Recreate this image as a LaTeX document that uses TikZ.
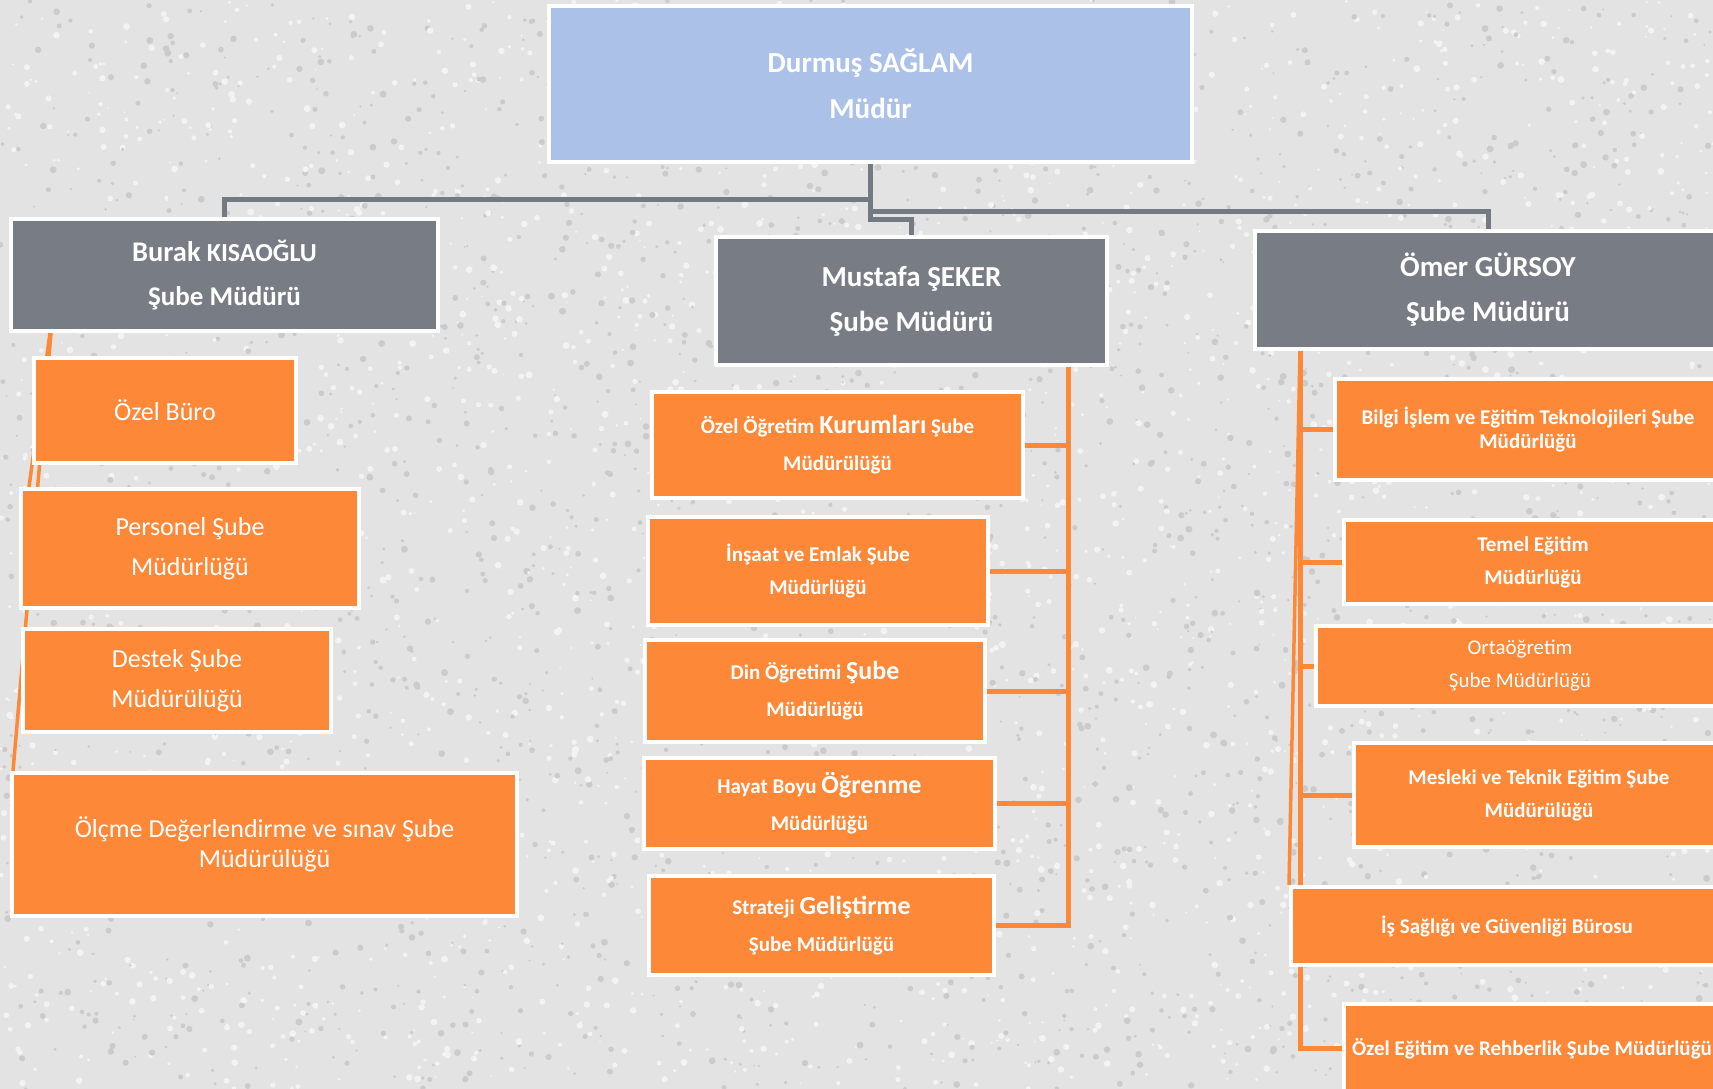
\documentclass[tikz,border=0pt]{standalone}
\usepackage{fontspec}
\setmainfont{Carlito}
\usetikzlibrary{calc}
\definecolor{bgc}{HTML}{E3E3E3}
\definecolor{speckd}{HTML}{CBCBCB}
\definecolor{speckl}{HTML}{F3F3F3}
\definecolor{topblue}{HTML}{ABC1E8}
\definecolor{mgray}{HTML}{787C84}
\definecolor{lgray}{HTML}{757982}
\definecolor{org}{HTML}{FD8838}
\pgfdeclarelayer{bg}
\pgfsetlayers{bg,main}
\tikzset{
  boxbase/.style={draw=white, line width=4pt, inner sep=0pt, align=center, text=white},
  bluebox/.style={boxbase, fill=topblue, font=\bfseries\fontsize{29}{46}\selectfont},
  graybox/.style={boxbase, fill=mgray, font=\bfseries\fontsize{29}{45}\selectfont},
  obox/.style={boxbase, fill=org},
  rfont/.style={font=\fontsize{26}{40}\selectfont},
  mfont/.style={font=\bfseries\fontsize{21}{37}\selectfont},
  ofont/.style={font=\bfseries\fontsize{21}{33}\selectfont},
  gline/.style={draw=lgray, line width=5pt},
  oline/.style={draw=org, line width=5pt},
  othin/.style={draw=org, line width=3.5pt},
}
\newcommand\placebox[7]{\node[#6, minimum width={#4-#2-4}, minimum height={#5-#3-4}] (#1) at ({(#2+#4)/2},{(#3+#5)/2}) {#7};}
\newcommand\lgtxt[1]{{\fontsize{26}{37}\selectfont #1}}
\begin{document}
\begin{tikzpicture}[x=1pt,y=-1pt]
\useasboundingbox (0,0) rectangle (1713,1089);
% top
\placebox{top}{547}{4}{1194}{164}{bluebox}{Durmuş SAĞLAM\\Müdür}
% branch heads
\placebox{burak}{9}{217}{440}{333}{graybox, font=\bfseries\fontsize{27}{44}\selectfont}{{\fontsize{28.5}{44}\selectfont Burak} {\fontsize{26}{44}\selectfont KISAOĞLU}\\Şube Müdürü}
\placebox{mustafa}{714}{235}{1109}{367}{graybox}{Mustafa ŞEKER\\Şube Müdürü}
\placebox{omer}{1253}{229}{1723}{351}{graybox}{Ömer GÜRSOY\\Şube Müdürü}
% Burak children
\placebox{ozelburo}{32}{356}{298}{465}{obox, rfont}{Özel Büro}
\placebox{personel}{19}{487}{361}{610}{obox, rfont}{Personel Şube\\Müdürlüğü}
\placebox{destek}{21}{627}{333}{734}{obox, rfont}{Destek Şube\\Müdürülüğü}
\placebox{olcme}{10}{771}{519}{918}{obox, font=\fontsize{26}{30}\selectfont}{Ölçme Değerlendirme ve sınav Şube\\Müdürülüğü}
% Mustafa children
\placebox{ozog}{650}{390}{1025}{500}{obox, mfont}{Özel Öğretim \lgtxt{Kurumları} Şube\\Müdürülüğü}
\placebox{insaat}{646}{515}{990}{627}{obox, ofont}{İnşaat ve Emlak Şube\\Müdürlüğü}
\placebox{din}{643}{638}{987}{744}{obox, mfont}{Din Öğretimi \lgtxt{Şube}\\Müdürlüğü}
\placebox{hayat}{642}{756}{997}{851}{obox, mfont}{Hayat Boyu \lgtxt{Öğrenme}\\Müdürlüğü}
\placebox{strateji}{647}{874}{996}{977}{obox, mfont}{Strateji \lgtxt{Geliştirme}\\Şube Müdürlüğü}
% Omer children
\placebox{bilgi}{1333}{377}{1723}{482}{obox, font=\bfseries\fontsize{21}{24}\selectfont}{Bilgi İşlem ve Eğitim Teknolojileri Şube\\Müdürlüğü}
\placebox{temel}{1342}{518}{1724}{606}{obox, ofont}{Temel Eğitim\\Müdürlüğü}
\placebox{orta}{1314}{624}{1726}{708}{obox, font=\fontsize{21}{33}\selectfont}{Ortaöğretim\\Şube Müdürlüğü}
\placebox{mesleki}{1352}{741}{1726}{849}{obox, ofont}{Mesleki ve Teknik Eğitim Şube\\Müdürülüğü}
\placebox{is}{1289}{885}{1725}{967}{obox, ofont}{İş Sağlığı ve Güvenliği Bürosu}
\placebox{ozegitim}{1342}{1002}{1722}{1095}{obox, ofont}{Özel Eğitim ve Rehberlik Şube Müdürlüğü}

\begin{pgfonlayer}{bg}
\clip (0,0) rectangle (1713,1089);
\fill[bgc] (0,0) rectangle (1713,1089);
% granite-like speckle texture
\pgfmathsetseed{12}
\foreach \i in {1,...,2600}{
  \pgfmathsetmacro\xx{rnd*1713}
  \pgfmathsetmacro\yy{rnd*1089}
  \pgfmathsetmacro\rr{1+rnd*2.5}
  \fill[speckd] (\xx,\yy) circle (\rr);
  \pgfmathsetmacro\xx{rnd*1713}
  \pgfmathsetmacro\yy{rnd*1089}
  \pgfmathsetmacro\rr{1+rnd*2.5}
  \fill[speckl] (\xx,\yy) circle (\rr);
}
% gray connectors
\coordinate (jb) at (224.5,199);
\coordinate (jo) at (1488,211);
\coordinate (jm) at (911.5,219);
\draw[gline] (top.south) |- (jb) -- (burak.north);
\draw[gline] (top.south) |- (jo) -- (omer.north);
\draw[gline] (top.south) |- (jm) -- (mustafa.north);
% Mustafa bus
\coordinate (mv) at (1068,0);
\draw[oline] (mustafa.south -| mv) |- (strateji.east);
\foreach \n in {ozog,insaat,din,hayat} \draw[oline] (\n.east) -- (\n.east -| mv);
% Omer bus
\coordinate (ov) at (1300,0);
\draw[oline] (omer.south -| ov) |- (ozegitim.west);
\foreach \n in {bilgi,temel,orta,mesleki} \draw[oline] (\n.west -| ov) -- (\n.west);
\draw[othin] (omer.south -| ov) -- (is.north west);
% Burak lines
\draw[othin] ($(burak.south west)+(42,0)$) -- ($(olcme.north west)+(3,0)$);
\draw[othin] ($(burak.south west)+(41,0)$) -- ($(personel.north west)+(10,0)$);
\end{pgfonlayer}
\end{tikzpicture}
\end{document}
